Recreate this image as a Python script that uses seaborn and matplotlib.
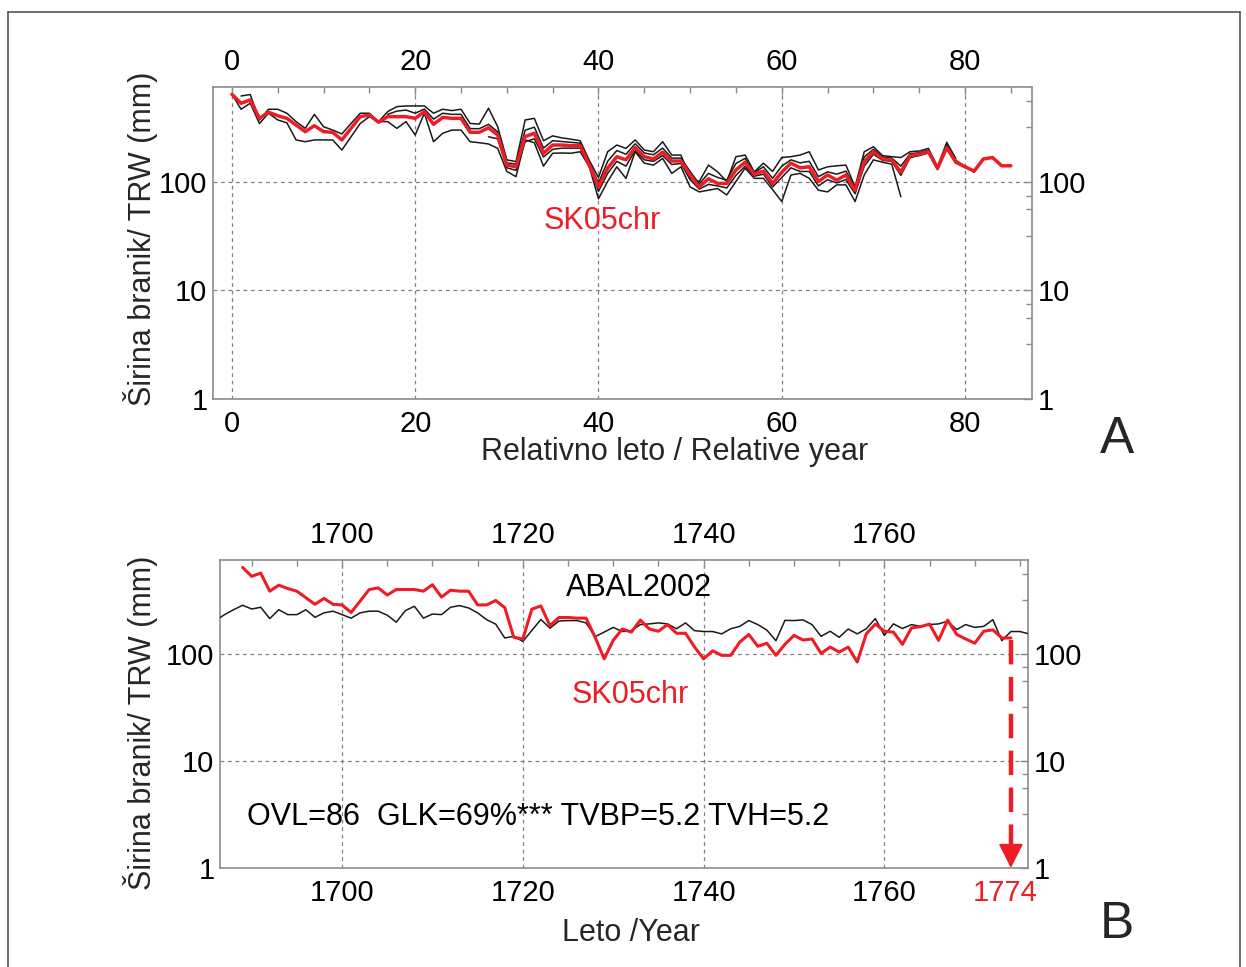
import numpy as np
import pandas as pd
import matplotlib
matplotlib.use("Agg")
import matplotlib.pyplot as plt
import matplotlib.transforms as mtransforms
from matplotlib.ticker import FixedLocator, FixedFormatter, MultipleLocator, NullFormatter
import seaborn as sns

# ---------------- data ----------------
# SK05chr chronology (relative years 0..85 ; calendar 1689..1774)
sk05chr = [643, 531, 570, 386, 439, 408, 386, 335, 291, 330,
           291, 287, 244, 312, 400, 414, 355, 400, 400, 400,
           386, 444, 340, 394, 386, 386, 287, 287, 316, 271,
           143, 138, 262, 281, 184, 219, 219, 216, 216, 143,
           90, 134, 171, 160, 207, 171, 163, 188, 156, 156,
           116, 90, 107, 97, 97, 129, 152, 118, 126, 97,
           123, 149, 135, 138, 101, 116, 104, 116, 84, 154,
           190, 163, 160, 123, 175, 180, 190, 134, 207, 152,
           138, 126, 163, 168, 141, 141]
sk05_first_year = 1689

# individual tree-ring series (relative year start, values)
series1_start = 1
series1 = [620, 640, 373, 468, 468, 430, 360, 312, 420, 323,
           301, 277, 346, 430, 430, 360, 445, 495, 502, 502,
           502, 430, 468, 455, 468, 346, 342, 478, 323, 160,
           154, 373, 386, 240, 266, 255, 248, 240, 158, 110,
           190, 219, 204, 244, 197, 190, 235, 177, 177, 108,
           101, 143, 124, 101, 171, 177, 124, 149, 125, 168,
           171, 177, 190, 129, 138, 141, 143, 90, 190, 211,
           175, 171, 168, 190, 193, 204, 138, 232, 164]
series2_start = 0
series2 = [645, 468, 532, 346, 430, 373, 351, 244, 235, 244,
           244, 244, 197, 261, 346, 400, 360, 360, 312, 360,
           271, 430, 235, 281, 301, 301, 235, 230, 224, 204,
           125, 112, 244, 230, 140, 184, 185, 184, 190, 138,
           70, 101, 138, 108, 190, 149, 143, 165, 120, 138,
           90, 81, 84, 87, 76, 101, 134, 108, 108, 85,
           66, 116, 120, 108, 84, 81, 94, 94, 66, 116,
           160, 152, 146, 73]
series3_start = 17
series3 = [420, 450, 460, 430, 470, 380, 430, 420, 420, 310,
           310, 340, 290, 150, 146, 300, 320, 205, 240, 236,
           232, 228, 150, 98, 155, 195, 180, 225, 185, 178,
           205, 166, 166, 125, 96, 120, 110, 104, 148, 165,
           122, 138, 108, 140, 160, 150, 155, 112, 124, 118,
           126, 88, 170, 200, 170, 166, 140, 182, 186, 197,
           136, 220, 158, 140, 123]
series4_start = 28
series4 = [261, 250, 135, 128, 235, 250, 170, 200, 205, 205,
           205, 140, 82, 120, 155, 140, 195, 160, 155, 175,
           145, 148, 105, 86, 95, 92, 88, 115, 140, 113,
           118, 90, 110, 135, 125, 125, 92, 105, 98, 105,
           78, 140, 180, 158, 155, 115, 168, 175, 185, 130,
           210, 150]

# ABAL2002 reference chronology (1686..1776)
abal_first_year = 1686
abal2002 = [205, 233, 259, 285, 263, 273, 214, 259, 233, 233,
            259, 220, 242, 251, 233, 216, 242, 251, 251, 230,
            198, 254, 279, 216, 236, 233, 273, 283, 269, 242,
            209, 190, 141, 146, 131, 166, 210, 174, 203, 205,
            205, 195, 145, 160, 177, 162, 165, 188, 191, 195,
            191, 172, 195, 165, 162, 162, 154, 172, 181, 205,
            188, 167, 133, 206, 205, 208, 188, 146, 163, 143,
            171, 154, 172, 214, 149, 191, 173, 188, 181, 188,
            191, 202, 169, 188, 177, 181, 209, 133, 162, 162, 154]

top_xticks = [0, 20, 40, 60, 80]
bottom_xticks = [1700, 1720, 1740, 1760]
y_ticks = [1, 10, 100]
y_ticklabels = ["1", "10", "100"]
y_minor = [0.32, 0.56, 0.75, 3.2, 5.6, 7.5, 32, 56, 75, 320, 560]
dated_year = 1774
stats_text = "OVL=86  GLK=69%*** TVBP=5.2 TVH=5.2"

# ---------------- style ----------------
sns.set_style("white")
plt.rcParams["font.family"] = ["Liberation Sans", "DejaVu Sans"]

RED = "#ee1c25"
BLACK = "#1a1a1a"
SPINE = "#8c8c8c"
FS = 22
FT = 21

fig = plt.figure(figsize=(12.46, 9.67), dpi=100)
ax1 = fig.add_axes([0.1709, 0.5874, 0.6573, 0.3226])
ax2 = fig.add_axes([0.1766, 0.1024, 0.6485, 0.3185])

# ---------- panel A ----------
for start, vals in [(series1_start, series1), (series2_start, series2),
                    (series3_start, series3), (series4_start, series4)]:
    df = pd.DataFrame({"x": np.arange(start, start + len(vals)), "y": vals})
    sns.lineplot(data=df, x="x", y="y", ax=ax1, color=BLACK, lw=1.1, zorder=3)
df_red = pd.DataFrame({"x": np.arange(len(sk05chr)), "y": sk05chr})
sns.lineplot(data=df_red, x="x", y="y", ax=ax1, color=RED, lw=2.5, zorder=4)

ax1.set_yscale("log")
ax1.set_xlim(-2.07, 87.3)
ax1.set_ylim(1, 750)
ax1.xaxis.set_major_locator(FixedLocator(top_xticks))
ax1.xaxis.set_minor_locator(MultipleLocator(5))
ax1.text(40.4, 43.7, "SK05chr", color=RED, fontsize=FS, ha="center", va="center", zorder=5)
ax1.set_xlabel("Relativno leto / Relative year", fontsize=FS, va="center")
ax1.xaxis.set_label_coords(0.564, -0.17)

# ---------- panel B ----------
df_abal = pd.DataFrame({"x": np.arange(abal_first_year, abal_first_year + len(abal2002)), "y": abal2002})
sns.lineplot(data=df_abal, x="x", y="y", ax=ax2, color=BLACK, lw=1.1, zorder=3)
df_red2 = pd.DataFrame({"x": np.arange(sk05_first_year, sk05_first_year + len(sk05chr)), "y": sk05chr})
sns.lineplot(data=df_red2, x="x", y="y", ax=ax2, color=RED, lw=2.2, zorder=4)

ax2.set_yscale("log")
ax2.set_xlim(1686.5, 1775.9)
ax2.set_ylim(1, 755)
ax2.xaxis.set_major_locator(FixedLocator(bottom_xticks))
ax2.xaxis.set_minor_locator(MultipleLocator(5))
ax2.text(1732.8, 414, "ABAL2002", color="black", fontsize=FS, ha="center", va="center", zorder=5)
ax2.text(1731.9, 41.4, "SK05chr", color=RED, fontsize=FS, ha="center", va="center", zorder=5)
ax2.text(1689.5, 3.0, stats_text, color="black", fontsize=FS, ha="left", va="center", zorder=5)
ax2.set_xlabel("Leto /Year", fontsize=FS, va="center")
ax2.xaxis.set_label_coords(0.5087, -0.211)

# dashed arrow marking the dated end year
ax2.plot([dated_year, dated_year], [135, 1.35], color=RED, lw=3.2,
         ls=(0, (5.5, 2.8)), solid_capstyle="butt", dash_capstyle="butt", zorder=6)
ax2.annotate("", xy=(dated_year, 1.0), xytext=(dated_year, 1.5),
             arrowprops=dict(arrowstyle="-|>,head_length=0.75,head_width=0.38",
                             color=RED, lw=1.5, shrinkA=0, shrinkB=0, mutation_scale=20),
             zorder=7)
trans = mtransforms.blended_transform_factory(ax2.transData, ax2.transAxes)
ax2.text(dated_year - 0.6, -0.081, str(dated_year), color=RED, fontsize=FT,
         ha="center", va="center", transform=trans)

# ---------- common axis styling ----------
for ax in (ax1, ax2):
    ax.yaxis.set_major_locator(FixedLocator(y_ticks))
    ax.yaxis.set_major_formatter(FixedFormatter(y_ticklabels))
    ax.yaxis.set_minor_locator(FixedLocator(y_minor))
    ax.yaxis.set_minor_formatter(NullFormatter())
    ax.set_ylabel("Širina branik/ TRW (mm)", fontsize=FS, va="center")
    ax.grid(True, which="major", color="#808080", ls=(0, (3, 3)), lw=0.9)
    ax.tick_params(which="both", direction="in", top=True, right=True,
                   labeltop=True, labelright=True, colors=SPINE,
                   labelcolor="black", labelsize=FT, width=1.0)
    ax.tick_params(which="major", length=6)
    ax.tick_params(which="minor", length=4)
    ax.tick_params(axis="x", which="major", pad=8)
    ax.tick_params(axis="y", which="major", pad=4)
    for s in ax.spines.values():
        s.set_color(SPINE)
        s.set_linewidth(1.2)
        s.set_visible(True)
ax1.yaxis.set_label_coords(-0.089, 0.513)
ax2.yaxis.set_label_coords(-0.099, 0.47)

# panel letters
fig.text(1117 / 1246, 1 - 440 / 967, "A", fontsize=37, ha="center", va="center")
fig.text(1117 / 1246, 1 - 925 / 967, "B", fontsize=37, ha="center", va="center")

# outer frame
frame_col = "#555555"
x0, x1, yt = 8 / 1246, 1240 / 1246, 1 - 12 / 967
fig.add_artist(plt.Line2D([x0, x0], [0, yt], color=frame_col, lw=1.2, transform=fig.transFigure))
fig.add_artist(plt.Line2D([x1, x1], [0, yt], color=frame_col, lw=1.2, transform=fig.transFigure))
fig.add_artist(plt.Line2D([x0, x1], [yt, yt], color=frame_col, lw=1.2, transform=fig.transFigure))

fig.savefig("out.png", dpi=100)
